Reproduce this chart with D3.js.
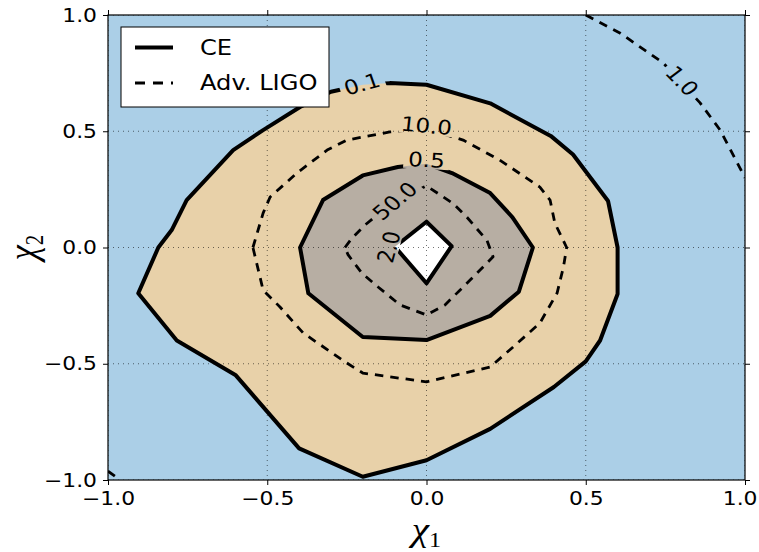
<!DOCTYPE html>
<html>
<head>
<meta charset="utf-8">
<script src="https://cdn.jsdelivr.net/npm/d3@7"></script>
<style>
  body { margin: 0; background: #fff; }
  svg { display: block; }
</style>
</head>
<body>
<svg id="chart" width="759" height="552"></svg>
<script>
// ---- tick values -------------------------------------------------------
const xTicks = [-1.0, -0.5, 0.0, 0.5, 1.0];
const yTicks = [-1.0, -0.5, 0.0, 0.5, 1.0];

// ---- CE contours (chi1, chi2), filled between levels ------------------
const ceLevels = ["0.1", "0.5", "2.0"];
const ce01 = [
  [0.00, 0.70], [0.20, 0.62], [0.39, 0.48], [0.46, 0.40], [0.57, 0.20],
  [0.60, 0.00], [0.60, -0.20], [0.545, -0.40], [0.50, -0.49], [0.40, -0.60],
  [0.20, -0.78], [0.00, -0.915], [-0.20, -0.986], [-0.40, -0.864], [-0.60, -0.548],
  [-0.784, -0.40], [-0.905, -0.197], [-0.842, 0.00], [-0.80, 0.075], [-0.753, 0.204],
  [-0.607, 0.419], [-0.513, 0.505], [-0.397, 0.604], [-0.30, 0.67], [-0.20, 0.70],
  [-0.115, 0.707]
];
const ce05 = [
  [0.00, 0.36], [0.08, 0.32], [0.20, 0.234], [0.27, 0.13], [0.334, 0.00],
  [0.29, -0.19], [0.20, -0.294], [0.00, -0.398], [-0.20, -0.385], [-0.371, -0.197],
  [-0.397, 0.00], [-0.325, 0.204], [-0.20, 0.31], [-0.09, 0.346]
];
const ce20 = [
  [0.00, 0.111], [0.079, 0.006], [0.00, -0.154], [-0.099, 0.003]
];

// ---- Advanced LIGO contours (chi1, chi2), dashed lines -----------------
const ligoLevels = ["1.0", "10.0", "50.0"];
const ligo1Upper = [
  [0.50, 1.00], [0.607, 0.923], [0.743, 0.794], [0.859, 0.622], [0.922, 0.505], [1.00, 0.30]
];
const ligo1Lower = [
  [-1.00, -0.962], [-0.962, -1.00]
];
const ligo10 = [
  [-0.545, 0.00], [-0.513, 0.148], [-0.491, 0.217], [-0.407, 0.32], [-0.312, 0.419],
  [-0.25, 0.462], [-0.115, 0.497], [0.00, 0.51], [0.115, 0.462], [0.23, 0.376],
  [0.356, 0.26], [0.388, 0.204], [0.403, 0.105], [0.44, 0.00], [0.43, -0.084],
  [0.41, -0.196], [0.356, -0.325], [0.262, -0.44], [0.20, -0.514], [0.00, -0.578],
  [-0.20, -0.54], [-0.25, -0.497], [-0.387, -0.368], [-0.46, -0.256], [-0.513, -0.183]
];
const ligo50 = [
  [-0.256, 0.00], [-0.234, 0.04], [-0.193, 0.097], [-0.10, 0.20], [0.00, 0.265],
  [0.083, 0.19], [0.127, 0.13], [0.19, 0.03], [0.209, -0.04], [0.137, -0.14],
  [0.058, -0.247], [0.00, -0.29], [-0.083, -0.247], [-0.152, -0.17], [-0.203, -0.11],
  [-0.246, -0.032]
];

// ---- inline contour labels: text, chi1, chi2, on-screen angle (deg) ----
const labelText  = ["0.1", "10.0", "0.5", "50.0", "2.0", "1.0"];
const labelX     = [-0.2025, 0.0, 0.0, -0.099, -0.118, 0.802];
const labelY     = [0.703, 0.523, 0.376, 0.20, 0.002, 0.716];
const labelAngle = [-15, 5, 3, -40, -75, 45];

// ---- legend --------------------------------------------------------------
const legendNames = ["CE", "Adv. LIGO"];

// ========================================================================
const W = 759, H = 552;
const plot = { left: 108, right: 745, top: 15, bottom: 480 };
const stretch = 1.15;          // horizontal text aspect
const colBlue = "#abcfe7", colTan = "#e8d1a9", colGray = "#b7aea3";

const svg = d3.select("#chart");
const x = d3.scaleLinear().domain([-1, 1]).range([plot.left, plot.right]);
const y = d3.scaleLinear().domain([-1, 1]).range([plot.bottom, plot.top]);

const closed = d3.line().x(d => x(d[0])).y(d => y(d[1])).curve(d3.curveLinearClosed);
const open = d3.line().x(d => x(d[0])).y(d => y(d[1]));

const defs = svg.append("defs");
defs.append("clipPath").attr("id", "plotClip")
  .append("rect")
  .attr("x", plot.left).attr("y", plot.top)
  .attr("width", plot.right - plot.left).attr("height", plot.bottom - plot.top);

const area = svg.append("g").attr("clip-path", "url(#plotClip)");

// filled bands
area.append("rect")
  .attr("x", plot.left).attr("y", plot.top)
  .attr("width", plot.right - plot.left).attr("height", plot.bottom - plot.top)
  .attr("fill", colBlue);
area.append("path").attr("d", closed(ce01)).attr("fill", colTan);
area.append("path").attr("d", closed(ce05)).attr("fill", colGray);
area.append("path").attr("d", closed(ce20)).attr("fill", "#fff");

// dotted grid
const grid = area.append("g")
  .attr("stroke", "#000").attr("stroke-opacity", 0.55)
  .attr("stroke-width", 1).attr("stroke-dasharray", "1,4");
grid.selectAll(".gx").data(xTicks).join("line")
  .attr("x1", d => x(d)).attr("x2", d => x(d))
  .attr("y1", plot.top).attr("y2", plot.bottom);
grid.selectAll(".gy").data(yTicks).join("line")
  .attr("x1", plot.left).attr("x2", plot.right)
  .attr("y1", d => y(d)).attr("y2", d => y(d));

// contour labels (measured first so the lines can be cut around them)
const labels = labelText.map((t, i) => {
  const a = Math.atan2(Math.sin(labelAngle[i] * Math.PI / 180),
                       Math.cos(labelAngle[i] * Math.PI / 180) / stretch) * 180 / Math.PI;
  return { t, px: x(labelX[i]), py: y(labelY[i]), a };
});
const labelTransform = d => `translate(${d.px},${d.py}) scale(${stretch},1) rotate(${d.a})`;

const labelG = svg.append("g").attr("clip-path", "url(#plotClip)");
const labelTexts = labelG.selectAll("text").data(labels).join("text")
  .attr("transform", labelTransform)
  .attr("text-anchor", "middle").attr("dominant-baseline", "central")
  .attr("font-family", "DejaVu Sans").attr("font-size", 20)
  .attr("fill", "#000")
  .text(d => d.t);
labelTexts.each(function (d) { d.w = this.getComputedTextLength(); });

const mask = defs.append("mask").attr("id", "labelGaps")
  .attr("maskUnits", "userSpaceOnUse")
  .attr("x", 0).attr("y", 0).attr("width", W).attr("height", H);
mask.append("rect").attr("x", 0).attr("y", 0).attr("width", W).attr("height", H).attr("fill", "#fff");
mask.selectAll(".gap").data(labels).join("rect")
  .attr("transform", labelTransform)
  .attr("x", d => -d.w / 2 - 4).attr("y", -9)
  .attr("width", d => d.w + 8).attr("height", 18)
  .attr("fill", "#000");

// contour lines
const lines = area.append("g").attr("mask", "url(#labelGaps)")
  .attr("fill", "none").attr("stroke", "#000").attr("stroke-linejoin", "round");
[ce01, ce05, ce20].forEach(c =>
  lines.append("path").attr("d", closed(c)).attr("stroke-width", 4));
[ligo10, ligo50].forEach(c =>
  lines.append("path").attr("d", closed(c))
    .attr("stroke-width", 2.8).attr("stroke-dasharray", "8.5,7"));
[ligo1Upper, ligo1Lower].forEach(c =>
  lines.append("path").attr("d", open(c))
    .attr("stroke-width", 2.8).attr("stroke-dasharray", "8.5,7"));

labelG.raise();

// axes & ticks
const fmt = d3.format(".1f");
const styleTicks = g => {
  g.select(".domain").remove();
  g.selectAll(".tick line").attr("stroke", "#000").attr("stroke-width", 1);
};
const xAxisG = svg.append("g").attr("transform", `translate(0,${plot.bottom})`)
  .call(d3.axisBottom(x).tickValues(xTicks).tickSize(5).tickPadding(7).tickFormat(fmt))
  .call(styleTicks)
  .call(g => g.selectAll("text")
    .attr("font-family", "DejaVu Sans").attr("font-size", 19).attr("fill", "#000")
    .attr("transform", `scale(${stretch},1)`));
// keep the outermost tick label inside the page
xAxisG.selectAll(".tick").each(function (d) {
  const t = d3.select(this).select("text").node();
  const half = t.getComputedTextLength() * stretch / 2;
  const over = x(d) + half - (W - 2);
  if (over > 0) d3.select(t).attr("x", -over / stretch);
});
svg.append("g").attr("transform", `translate(${plot.left},0)`)
  .call(d3.axisLeft(y).tickValues(yTicks).tickSize(5).tickPadding(6).tickFormat(fmt))
  .call(styleTicks)
  .call(g => g.selectAll("text")
    .attr("font-family", "DejaVu Sans").attr("font-size", 19).attr("fill", "#000")
    .attr("x", -11 / stretch)
    .attr("transform", `scale(${stretch},1)`));
svg.append("g").attr("transform", `translate(0,${plot.top})`)
  .call(d3.axisTop(x).tickValues(xTicks).tickSize(5).tickFormat(() => ""))
  .call(styleTicks);
svg.append("g").attr("transform", `translate(${plot.right},0)`)
  .call(d3.axisRight(y).tickValues(yTicks).tickSize(5).tickFormat(() => ""))
  .call(styleTicks);

// frame
svg.append("rect")
  .attr("x", plot.left).attr("y", plot.top)
  .attr("width", plot.right - plot.left).attr("height", plot.bottom - plot.top)
  .attr("fill", "none").attr("stroke", "#000").attr("stroke-width", 1.2);

// axis titles
const xTitle = svg.append("text")
  .attr("transform", `translate(${x(0)},541) scale(${stretch},1)`)
  .attr("text-anchor", "middle")
  .attr("font-family", "Liberation Serif").attr("fill", "#000");
xTitle.append("tspan").attr("font-style", "italic").attr("font-size", 34).text("χ");
xTitle.append("tspan").attr("font-size", 21).attr("dy", 6).text("1");

const yTitle = svg.append("text")
  .attr("transform", `translate(36,${y(0)}) rotate(-90) scale(1,${stretch})`)
  .attr("text-anchor", "middle")
  .attr("font-family", "Liberation Serif").attr("fill", "#000");
yTitle.append("tspan").attr("font-style", "italic").attr("font-size", 34).text("χ");
yTitle.append("tspan").attr("font-size", 21).attr("dy", 6).text("2");

// legend
const leg = svg.append("g");
leg.append("rect")
  .attr("x", 121).attr("y", 27).attr("width", 208).attr("height", 80)
  .attr("fill", "#fff").attr("stroke", "#000").attr("stroke-width", 1);
const legRows = [47.5, 83];
leg.selectAll(".lline").data(legendNames).join("line")
  .attr("x1", 135).attr("x2", 173)
  .attr("y1", (d, i) => legRows[i]).attr("y2", (d, i) => legRows[i])
  .attr("stroke", "#000")
  .attr("stroke-width", (d, i) => i === 0 ? 4 : 2.8)
  .attr("stroke-dasharray", (d, i) => i === 0 ? null : "10,8");
leg.selectAll(".ltext").data(legendNames).join("text")
  .attr("transform", (d, i) => `translate(200,${legRows[i]}) scale(${stretch},1)`)
  .attr("dominant-baseline", "central")
  .attr("font-family", "DejaVu Sans").attr("font-size", 21).attr("fill", "#000")
  .text(d => d);
</script>
</body>
</html>
